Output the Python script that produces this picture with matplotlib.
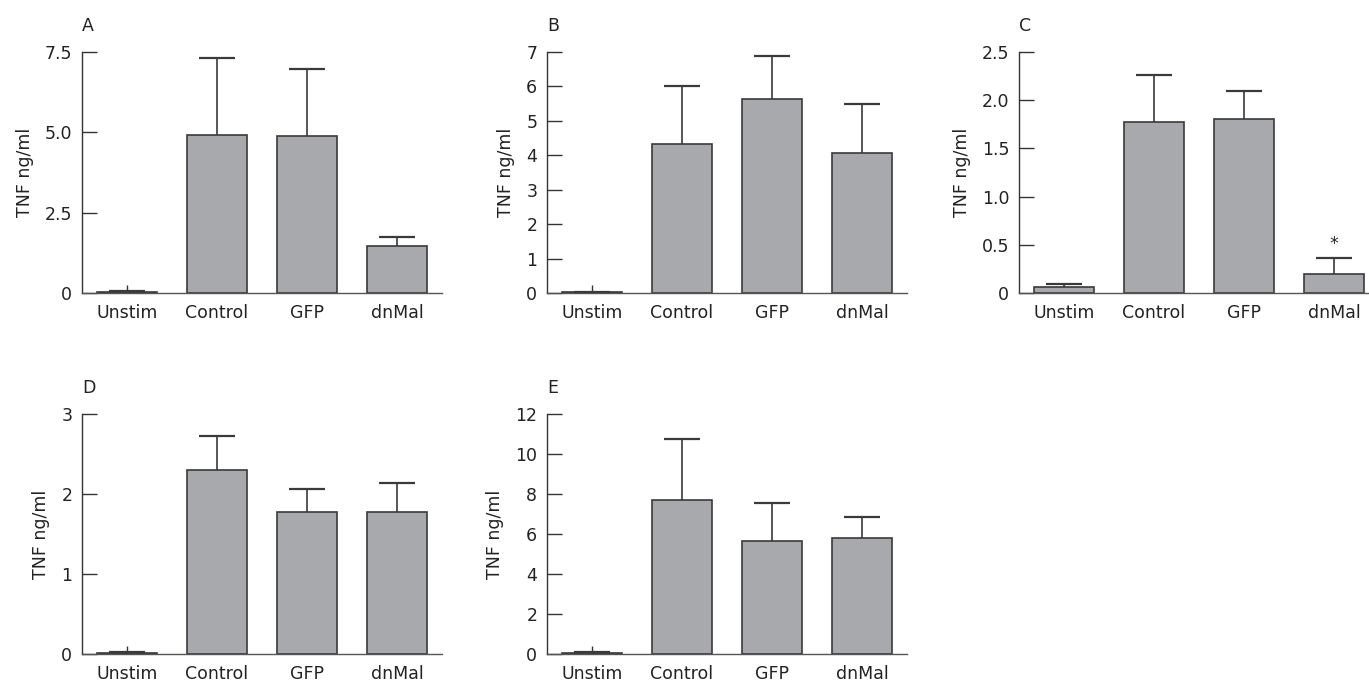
import matplotlib
matplotlib.use('Agg')
import matplotlib.pyplot as plt
import numpy as np

# Groups
groups = ['Unstim', 'Control', 'GFP', 'dnMal']

# Panel data (mean, upper error)
a_mean = [0.02, 4.92, 4.88, 1.47]
a_err = [0.03, 2.39, 2.09, 0.28]
b_mean = [0.02, 4.34, 5.63, 4.06]
b_err = [0.0, 1.66, 1.26, 1.42]
c_mean = [0.066, 1.77, 1.80, 0.198]
c_err = [0.028, 0.49, 0.30, 0.166]
d_mean = [0.012, 2.30, 1.78, 1.77]
d_err = [0.01, 0.43, 0.28, 0.37]
e_mean = [0.05, 7.72, 5.65, 5.82]
e_err = [0.05, 3.05, 1.88, 1.03]

# Y ticks for each panel
a_ticks = [0, 2.5, 5.0, 7.5]
a_labels = ['0', '2.5', '5.0', '7.5']
b_ticks = [0, 1, 2, 3, 4, 5, 6, 7]
b_labels = ['0', '1', '2', '3', '4', '5', '6', '7']
c_ticks = [0, 0.5, 1.0, 1.5, 2.0, 2.5]
c_labels = ['0', '0.5', '1.0', '1.5', '2.0', '2.5']
d_ticks = [0, 1, 2, 3]
d_labels = ['0', '1', '2', '3']
e_ticks = [0, 2, 4, 6, 8, 10, 12]
e_labels = ['0', '2', '4', '6', '8', '10', '12']

# Significance marker
c_star_group = 3
c_star_y = 0.42

plt.rcParams['font.family'] = ['DejaVu Sans']

bar_color = '#a8a9ad'
edge_color = '#3a3a3a'
text_color = '#222222'
fs = 12.5

fig = plt.figure(figsize=(13.69, 6.81), dpi=100)

W = 1369
H = 681


def make_axes(left_px, top_px, bottom_px):
    return fig.add_axes([left_px / W, 1 - bottom_px / H,
                         360 / W, (bottom_px - top_px) / H])


def draw_panel(ax, mean, err, ticks, labels, letter):
    x = np.arange(len(groups))
    ax.bar(x, mean, width=0.67, color=bar_color, edgecolor=edge_color,
           linewidth=1.2, zorder=2)
    eb = ax.errorbar(x, mean, yerr=[np.zeros(len(err)), err], fmt='none',
                     ecolor=edge_color, elinewidth=1.2, capsize=13,
                     capthick=1.6, zorder=3)
    # hide the lower caps
    eb[1][0].set_visible(False)
    ax.set_xlim(-0.5, 3.5)
    ax.set_ylim(0, ticks[-1])
    ax.set_yticks(ticks)
    ax.set_yticklabels(labels)
    ax.set_xticks(x)
    ax.set_xticklabels(groups)
    ax.spines['top'].set_visible(False)
    ax.spines['right'].set_visible(False)
    ax.spines['left'].set_color('#333333')
    ax.spines['bottom'].set_color('#555555')
    ax.spines['left'].set_linewidth(1.0)
    ax.spines['bottom'].set_linewidth(1.0)
    ax.tick_params(axis='y', direction='in', length=11, width=1.0,
                   color='#333333', labelsize=fs, pad=7, labelcolor=text_color)
    ax.tick_params(axis='x', direction='in', length=6, width=1.0,
                   color='#333333', labelsize=fs, pad=8, labelcolor=text_color)
    ax.set_ylabel('TNF ng/ml', fontsize=fs, labelpad=8, color=text_color)
    ax.text(0.0, 1.07, letter, transform=ax.transAxes, fontsize=fs,
            ha='left', va='bottom', color=text_color)
    ax.patch.set_visible(False)


ax_a = make_axes(82, 52, 293)
draw_panel(ax_a, a_mean, a_err, a_ticks, a_labels, 'A')

ax_b = make_axes(547, 52, 293)
draw_panel(ax_b, b_mean, b_err, b_ticks, b_labels, 'B')

ax_c = make_axes(1019, 52, 293)
draw_panel(ax_c, c_mean, c_err, c_ticks, c_labels, 'C')
ax_c.text(c_star_group, c_star_y, '*', fontsize=fs, ha='center',
          va='bottom', color=text_color)

ax_d = make_axes(82, 414, 654)
draw_panel(ax_d, d_mean, d_err, d_ticks, d_labels, 'D')

ax_e = make_axes(547, 414, 654)
draw_panel(ax_e, e_mean, e_err, e_ticks, e_labels, 'E')

plt.savefig('out.png', dpi=100)
